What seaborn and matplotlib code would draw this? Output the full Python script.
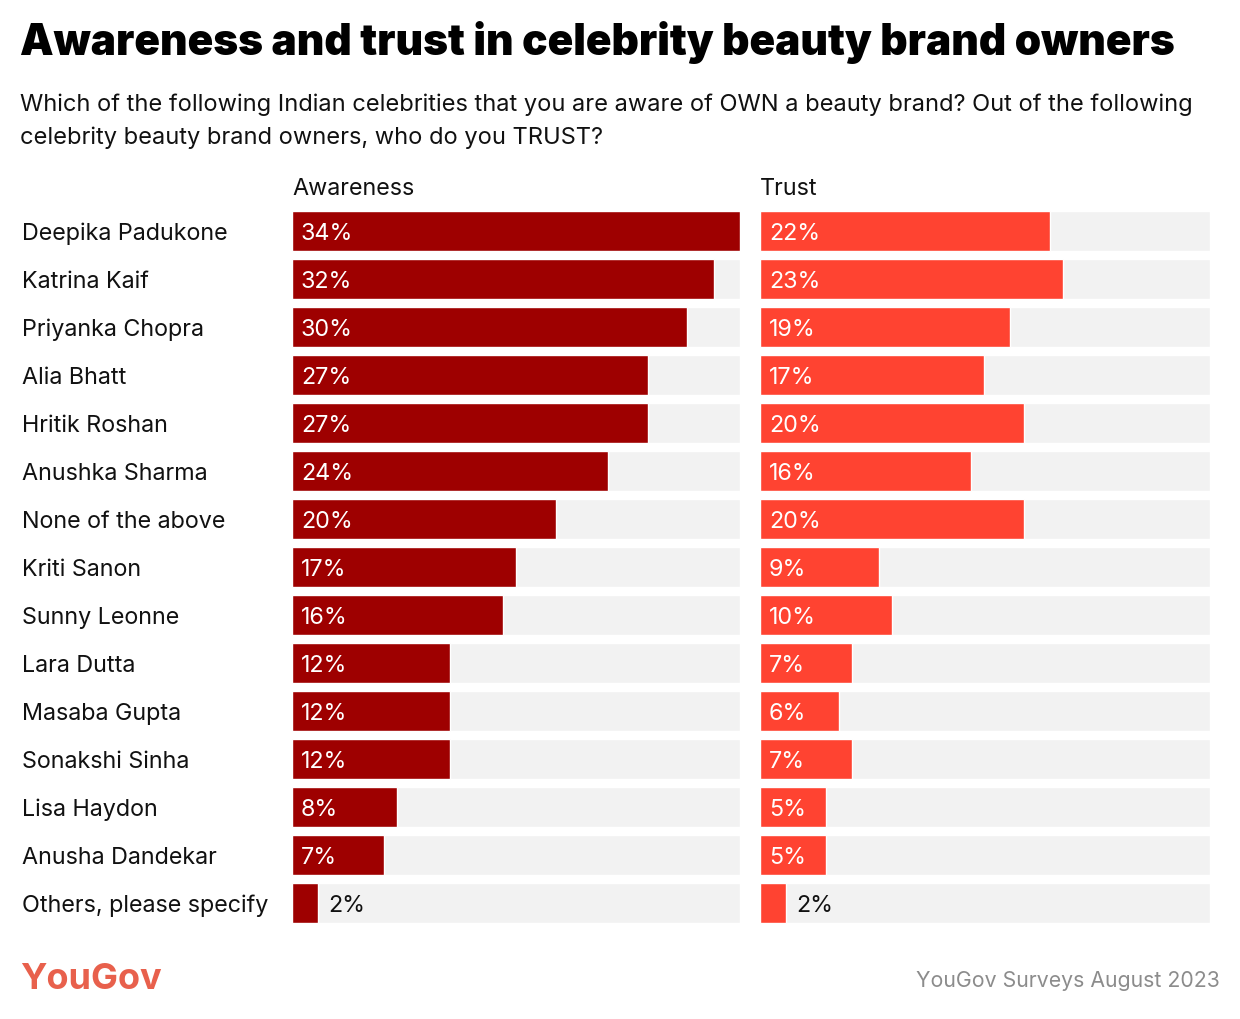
import matplotlib
matplotlib.use("Agg")
import matplotlib.pyplot as plt
import matplotlib.transforms as mtransforms
import seaborn as sns
import pandas as pd

names = ["Deepika Padukone", "Katrina Kaif", "Priyanka Chopra", "Alia Bhatt",
         "Hritik Roshan", "Anushka Sharma", "None of the above", "Kriti Sanon",
         "Sunny Leonne", "Lara Dutta", "Masaba Gupta", "Sonakshi Sinha",
         "Lisa Haydon", "Anusha Dandekar", "Others, please specify"]
awareness = [34, 32, 30, 27, 27, 24, 20, 17, 16, 12, 12, 12, 8, 7, 2]
trust = [22, 23, 19, 17, 20, 16, 20, 9, 10, 7, 6, 7, 5, 5, 2]

sns.set_theme(style="white")
plt.rcParams['font.family'] = ['Inter', 'DejaVu Sans']

df = pd.DataFrame({"name": names, "Awareness": awareness, "Trust": trust})

W, H = 1240, 1020
fig = plt.figure(figsize=(12.4, 10.2), dpi=100)

top_px, bot_px = 208, 928
panels = [("Awareness", 292, 740, "#9e0000", 34.0),
          ("Trust", 760, 1210, "#ff4331", 34.0 * 450 / 448)]

bg = "#f2f2f2"
fs = 16.8
# small downward nudge so text sits centred on the bars
nudge = mtransforms.ScaledTranslation(0, -2 / 100, fig.dpi_scale_trans)

for col, x0, x1, color, xmax in panels:
    ax = fig.add_axes([x0 / W, 1 - bot_px / H, (x1 - x0) / W, (bot_px - top_px) / H])
    df["_bg"] = xmax
    sns.barplot(data=df, x="_bg", y="name", color=bg, width=40 / 48,
                saturation=1, ax=ax, orient="h")
    sns.barplot(data=df, x=col, y="name", color=color, width=40 / 48,
                saturation=1, ax=ax, orient="h")
    ax.set_xlim(0, xmax)
    ax.set_ylim(len(names) - 0.5, -0.5)
    ax.axis("off")
    for i, v in enumerate(df[col]):
        bar_px = v / xmax * (x1 - x0)
        if bar_px > 60:
            ax.text(0, i, f"{v}%", color="white", fontsize=fs, va="center", ha="left",
                    transform=ax.transData + mtransforms.ScaledTranslation(9 / 100, -2 / 100, fig.dpi_scale_trans))
        else:
            ax.text(v, i, f"{v}%", color="#111111", fontsize=fs, va="center", ha="left",
                    transform=ax.transData + mtransforms.ScaledTranslation(10 / 100, -2 / 100, fig.dpi_scale_trans))
    fig.text(x0 / W, 1 - 189 / H, col, fontsize=fs, color="#111111", va="center", ha="left")
    if col == "Awareness":
        blend = mtransforms.blended_transform_factory(fig.transFigure, ax.transData)
        for i, n in enumerate(names):
            ax.text(22 / W, i, n, transform=blend + nudge, fontsize=fs, color="#111111",
                    va="center", ha="left")

fig.text(20 / W, 1 - 43 / H, "Awareness and trust in celebrity beauty brand owners",
         fontsize=30.5, fontweight="black", color="#000000", va="center", ha="left")
fig.text(20 / W, 1 - 121 / H,
         "Which of the following Indian celebrities that you are aware of OWN a beauty brand? Out of the following\n"
         "celebrity beauty brand owners, who do you TRUST?",
         fontsize=17.0, color="#111111", va="center", ha="left", linespacing=1.6)

fig.text(20 / W, 1 - 980 / H, "YouGov", fontsize=26, fontweight="bold",
         color="#e8604c", va="center", ha="left")
fig.text(1220 / W, 1 - 981 / H, "YouGov Surveys August 2023", fontsize=15.3,
         color="#8c8c8c", va="center", ha="right")

fig.savefig("out.png", dpi=100, facecolor="white")
